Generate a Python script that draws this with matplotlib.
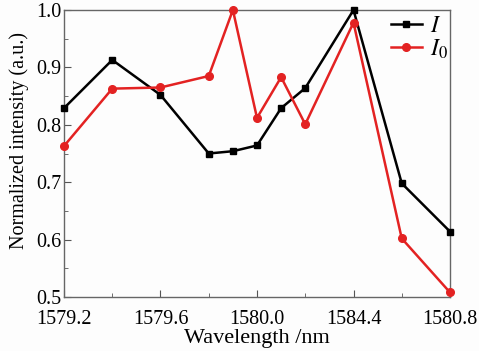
import matplotlib
matplotlib.use("Agg")
import matplotlib.pyplot as plt
from matplotlib.ticker import MultipleLocator, FixedLocator, FixedFormatter

plt.rcParams['font.family'] = ['Liberation Serif', 'DejaVu Serif']
plt.rcParams['mathtext.fontset'] = 'stix'

wavelength = [1579.2, 1579.4, 1579.6, 1579.8, 1579.9, 1580.0, 1580.1, 1580.2, 1580.4, 1580.6, 1580.8]
I_vals = [0.829, 0.913, 0.852, 0.750, 0.754, 0.764, 0.829, 0.864, 1.000, 0.698, 0.614]
I0_vals = [0.763, 0.863, 0.865, 0.885, 1.000, 0.812, 0.883, 0.801, 0.978, 0.602, 0.508]
xtick_pos = [1579.2, 1579.6, 1580.0, 1580.4, 1580.8]
xtick_labels = ["1579.2", "1579.6", "1580.0", "1584.4", "1580.8"]

fig = plt.figure(figsize=(4.79, 3.51), dpi=100, facecolor='#fdfdfd')
ax = fig.add_axes([64/479, 1-297/351, (450-64)/479, (297-10)/351])
ax.set_facecolor('#fdfdfd')

ax.plot(wavelength, I_vals, color='black', marker='s', markersize=4.5, lw=1.8, label='$I$', clip_on=False, zorder=3)
ax.plot(wavelength, I0_vals, color='#e32222', marker='o', markersize=5.5, lw=1.8, label='$I_0$', clip_on=False, zorder=3)

ax.set_xlim(1579.2, 1580.8)
ax.set_ylim(0.5, 1.0)
ax.xaxis.set_major_locator(FixedLocator(xtick_pos))
ax.xaxis.set_major_formatter(FixedFormatter(xtick_labels))
ax.xaxis.set_minor_locator(MultipleLocator(0.2))
ax.yaxis.set_major_locator(MultipleLocator(0.1))
ax.yaxis.set_minor_locator(MultipleLocator(0.05))
ax.tick_params(which='both', direction='in', labelsize=14.5, colors='#555555', labelcolor='black')
ax.tick_params(which='major', length=5)
ax.tick_params(which='minor', length=3)
ax.tick_params(axis='x', pad=9)
ax.tick_params(axis='y', pad=2)
for s in ax.spines.values():
    s.set_color('#666666')
    s.set_linewidth(1.0)

ax.set_xlabel('Wavelength /nm', fontsize=16, labelpad=0)
ax.set_ylabel('Normalized intensity (a.u.)', fontsize=14.5)
ax.yaxis.set_label_coords(-(64 - 29) / 386, (297 - 140) / 287)

leg = ax.legend(loc='upper right', bbox_to_anchor=(1.01, 1.0), frameon=False, fontsize=17,
                handlelength=1.3, borderaxespad=0.0, borderpad=0.25, labelspacing=0.0,
                handletextpad=0.35)

fig.savefig('out.png', dpi=100, facecolor=fig.get_facecolor())
